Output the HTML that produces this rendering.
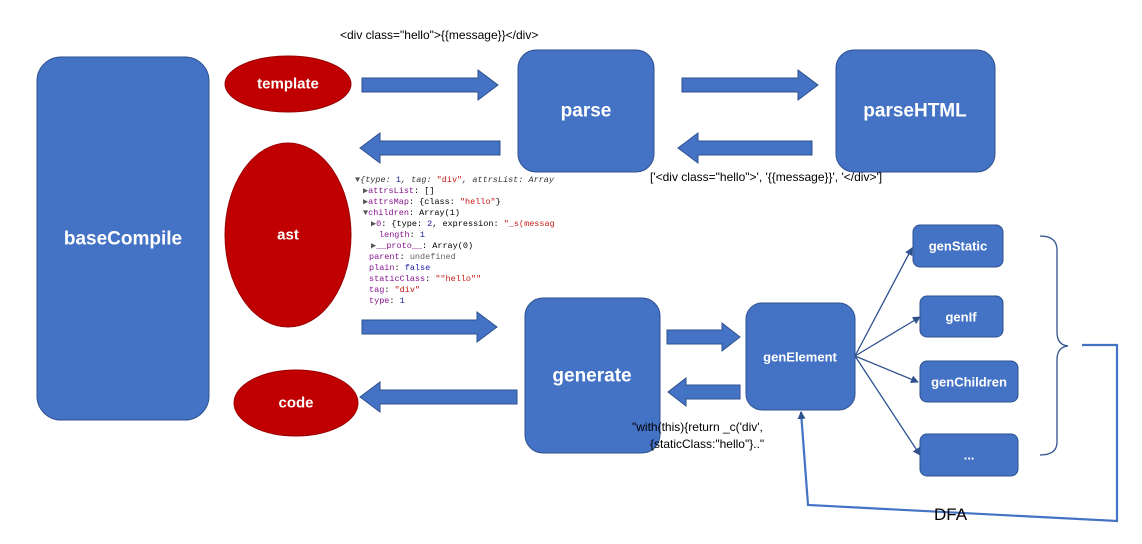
<!DOCTYPE html>
<html><head><meta charset="utf-8"><style>
html,body{margin:0;padding:0;background:#fff;}
svg{display:block;}
.w{font-family:"Liberation Sans",sans-serif;fill:#fff;font-weight:bold;text-anchor:middle;dominant-baseline:central;}
.k{font-family:"Liberation Sans",sans-serif;fill:#000;font-size:12px;}
.m{font-family:"Liberation Mono",monospace;font-size:8.5px;}
</style></head><body>
<svg width="1142" height="544" viewBox="0 0 1142 544" xmlns="http://www.w3.org/2000/svg">
<defs><marker id="ah" markerWidth="8" markerHeight="8" refX="7" refY="4" orient="auto" markerUnits="userSpaceOnUse"><path d="M0,0 L8,4 L0,8 z" fill="#2f528f"/></marker></defs>
<g fill="#4472c4" stroke="#2f528f" stroke-width="1">
<rect x="37" y="57" width="172" height="363" rx="24"/>
<rect x="518" y="50" width="136" height="122" rx="18"/>
<rect x="836" y="50" width="159" height="122" rx="18"/>
<rect x="525" y="298" width="135" height="155" rx="18"/>
<rect x="746" y="303" width="109" height="107" rx="16"/>
<rect x="913" y="225" width="90" height="42" rx="7"/>
<rect x="920" y="296" width="83" height="41" rx="7"/>
<rect x="920" y="361" width="98" height="41" rx="7"/>
<rect x="920" y="434" width="98" height="42" rx="7"/>
<!-- block arrows -->
<path d="M362,78 H478 V70 L498,85 L478,100 V92 H362 Z"/>
<path d="M500,141 H380 V133 L360,148 L380,163 V155 H500 Z"/>
<path d="M682,78 H798 V70 L818,85 L798,100 V92 H682 Z"/>
<path d="M812,141 H698 V133 L678,148 L698,163 V155 H812 Z"/>
<path d="M362,320 H477 V312 L497,327 L477,342 V334 H362 Z"/>
<path d="M517,390 H380 V382 L360,397 L380,412 V404 H517 Z"/>
<path d="M667,330 H722 V323 L740,337 L722,351 V344 H667 Z"/>
<path d="M740,385 H686 V378 L668,392 L686,406 V399 H740 Z"/>
</g>
<g fill="#c00000" stroke="#9a0000">
<ellipse cx="288" cy="84" rx="63" ry="28"/>
<ellipse cx="288" cy="235" rx="63" ry="92"/>
<ellipse cx="296" cy="403" rx="62" ry="33"/>
</g>
<text class="w" x="123" y="239" font-size="19">baseCompile</text>
<text class="w" x="288" y="84" font-size="15">template</text>
<text class="w" x="288" y="235" font-size="15">ast</text>
<text class="w" x="296" y="403" font-size="15">code</text>
<text class="w" x="586" y="111" font-size="19">parse</text>
<text class="w" x="915" y="111" font-size="19">parseHTML</text>
<text class="w" x="592" y="376" font-size="19">generate</text>
<text class="w" x="800" y="357" font-size="13">genElement</text>
<text class="w" x="958" y="246" font-size="13">genStatic</text>
<text class="w" x="961" y="317" font-size="13">genIf</text>
<text class="w" x="969" y="382" font-size="13">genChildren</text>
<text class="w" x="969" y="455" font-size="13">...</text>
<g stroke="#2f528f" stroke-width="1.3" fill="none" marker-end="url(#ah)">
<line x1="855" y1="356" x2="912" y2="248"/>
<line x1="855" y1="356" x2="920" y2="317"/>
<line x1="855" y1="356" x2="918" y2="382"/>
<line x1="855" y1="356" x2="920" y2="455"/>
</g>
<path d="M1040,236 Q1057,236 1057,250 V332 Q1057,345 1068,346 Q1057,347 1057,360 V442 Q1057,455 1040,455" fill="none" stroke="#2f528f" stroke-width="1.3"/>
<path d="M1082,345 H1117 V521 L808,505 L801,412" fill="none" stroke="#4472c4" stroke-width="2.2" marker-end="url(#ah)"/>
<text class="k" x="340" y="39">&lt;div class="hello"&gt;{{message}}&lt;/div&gt;</text>
<text class="k" x="650" y="181">['&lt;div class="hello"&gt;', '{{message}}', '&lt;/div&gt;']</text>
<text class="k" x="632" y="431">"with(this){return _c('div',</text>
<text class="k" x="650" y="448">{staticClass:"hello"}.."</text>
<text x="934" y="520" font-family="Liberation Sans,sans-serif" font-size="17" fill="#000">DFA</text>
<g class="m">
<text x="355" y="182"><tspan fill="#555">▼</tspan><tspan font-style="italic" fill="#333">{type: </tspan><tspan fill="#1a1aa6">1</tspan><tspan font-style="italic" fill="#333">, tag: </tspan><tspan fill="#c41a16">"div"</tspan><tspan font-style="italic" fill="#333">, attrsList: Array</tspan></text>
<text x="363" y="193"><tspan fill="#555">▶</tspan><tspan fill="#881391">attrsList</tspan>: []</text>
<text x="363" y="204"><tspan fill="#555">▶</tspan><tspan fill="#881391">attrsMap</tspan>: {class: <tspan fill="#c41a16">"hello"</tspan>}</text>
<text x="363" y="215"><tspan fill="#555">▼</tspan><tspan fill="#881391">children</tspan>: Array(1)</text>
<text x="371" y="226"><tspan fill="#555">▶</tspan><tspan fill="#881391">0</tspan>: {type: <tspan fill="#1a1aa6">2</tspan>, expression: <tspan fill="#c41a16">"_s(messag</tspan></text>
<text x="379" y="237"><tspan fill="#881391">length</tspan>: <tspan fill="#1a1aa6">1</tspan></text>
<text x="371" y="248"><tspan fill="#555">▶</tspan><tspan fill="#881391">__proto__</tspan>: Array(0)</text>
<text x="369" y="259"><tspan fill="#881391">parent</tspan>: <tspan fill="#666">undefined</tspan></text>
<text x="369" y="270"><tspan fill="#881391">plain</tspan>: <tspan fill="#1a1aa6">false</tspan></text>
<text x="369" y="281"><tspan fill="#881391">staticClass</tspan>: <tspan fill="#c41a16">""hello""</tspan></text>
<text x="369" y="292"><tspan fill="#881391">tag</tspan>: <tspan fill="#c41a16">"div"</tspan></text>
<text x="369" y="303"><tspan fill="#881391">type</tspan>: <tspan fill="#1a1aa6">1</tspan></text>
</g>
</svg>
</body></html>
